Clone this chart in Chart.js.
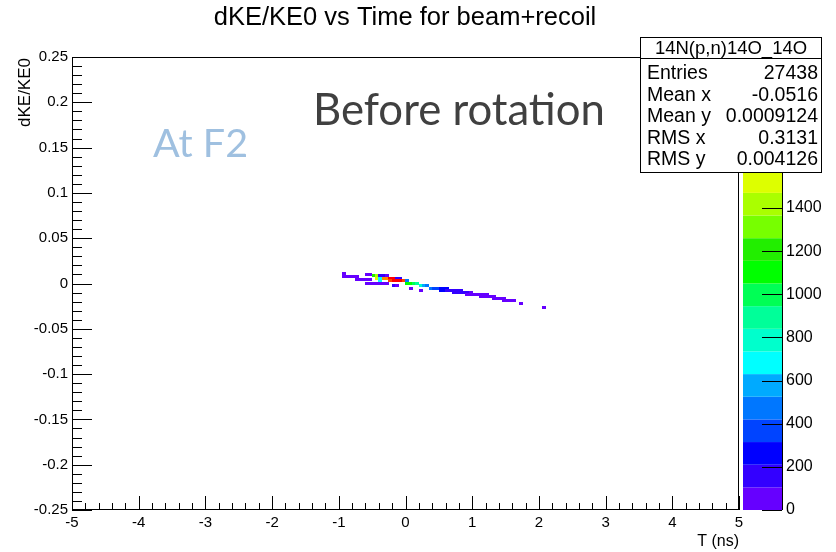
<!DOCTYPE html>
<html>
<head>
<meta charset="utf-8">
<script src="https://cdn.jsdelivr.net/npm/chart.js@4.4.0/dist/chart.umd.min.js"></script>
<style>
html,body{margin:0;padding:0;background:#fff;}
#wrap{width:836px;height:552px;position:relative;}
</style>
</head>
<body>
<div id="wrap"><canvas id="Chart1" width="836" height="552"></canvas></div>
<script>
var chartTitle = 'dKE/KE0 vs Time for beam+recoil';
var xTitle = 'T (ns)';
var yTitle = 'dKE/KE0';
var noteBig = 'Before rotation';
var noteSmall = 'At F2';
var xTickLabels = ['-5','-4','-3','-2','-1','0','1','2','3','4','5'];
var yTickLabels = ['-0.25','-0.2','-0.15','-0.1','-0.05','0','0.05','0.1','0.15','0.2','0.25'];
var zTickLabels = ['0','200','400','600','800','1000','1200','1400','1600','1800','2000'];
var zMax = 2100;
var zColors = ['#6600ff','#3300ff','#0000ff','#0044ff','#0077ff','#00aaff','#00ffff','#00ffcc','#00ff99','#00ff55',
               '#00ff00','#22ee00','#77ff00','#aaff00','#ddff00','#ffff00','#ffcc00','#ff8800','#ff4400','#ff0000'];
var statTitle = '14N(p,n)14O_14O';
var statNames = ['Entries','Mean x','Mean y','RMS x','RMS y'];
var statValues = ['27438','-0.0516','0.0009124','0.3131','0.004126'];

// 2D histogram cells: time (ns), dKE/KE0, counts
var cellT = [-0.925,
  -0.925,-0.875,-0.825,-0.775,-0.725,
  -0.575,-0.525,
  -0.725,-0.675,-0.625,-0.575,-0.525,
  -0.475,-0.425,-0.375,-0.325,-0.275,
  -0.425,-0.375,-0.325,-0.275,-0.225,-0.175,-0.125,-0.075,
  -0.375,-0.225,-0.175,-0.125,-0.075,-0.025,0.025,
  -0.575,-0.525,-0.475,-0.425,-0.375,-0.325,-0.275,0.025,0.075,0.125,0.175,
  -0.175,-0.125,0.225,0.275,0.325,
  0.075,0.375,0.425,0.475,0.525,0.575,0.625,
  0.225,0.525,0.575,0.625,0.675,0.725,0.775,0.825,
  0.725,0.775,0.825,0.875,0.925,0.975,
  0.925,0.975,1.025,1.075,1.125,1.175,1.225,
  1.125,1.175,1.225,1.275,1.325,
  1.325,1.375,1.425,1.475,
  1.475,1.525,1.575,1.625,
  1.725,2.075];
var cellD = [0.0105,
  0.0078,0.0078,0.0078,0.0078,0.0078,
  0.0100,0.0100,
  0.0044,0.0044,0.0044,0.0044,0.0044,
  0.0083,0.0083,0.0083,0.0083,0.0083,
  0.0058,0.0058,0.0058,0.0058,0.0058,0.0058,0.0058,0.0058,
  0.0030,0.0030,0.0030,0.0030,0.0030,0.0030,0.0030,
  0.0005,0.0005,0.0005,0.0005,0.0005,0.0005,0.0005,0.0005,0.0005,0.0005,0.0005,
  -0.0022,-0.0022,-0.0022,-0.0022,-0.0022,
  -0.0052,-0.0052,-0.0052,-0.0052,-0.0052,-0.0052,-0.0052,
  -0.0075,-0.0075,-0.0075,-0.0075,-0.0075,-0.0075,-0.0075,-0.0075,
  -0.0099,-0.0099,-0.0099,-0.0099,-0.0099,-0.0099,
  -0.0125,-0.0125,-0.0125,-0.0125,-0.0125,-0.0125,-0.0125,
  -0.0147,-0.0147,-0.0147,-0.0147,-0.0147,
  -0.0170,-0.0170,-0.0170,-0.0170,
  -0.0192,-0.0192,-0.0192,-0.0192,
  -0.0218,-0.0268];
var cellN = [60,
  60,80,70,80,60,
  90,70,
  80,90,80,95,90,
  1250,1450,120,130,90,
  1550,720,1800,1850,2050,2090,170,150,
  640,1950,2060,2010,2040,1930,420,
  80,90,95,90,100,90,70,1100,1150,1000,860,
  120,100,740,610,520,
  90,420,380,330,260,230,220,
  80,230,220,200,180,160,150,140,
  150,140,130,120,110,100,
  100,95,90,90,85,80,80,
  80,80,70,70,60,
  60,60,50,50,
  40,40,30,30,
  40,60];

var cellImgs = [];
function makeCellImages(){
    for (var i = 0; i < zColors.length; i++) {
        var c = document.createElement('canvas');
        c.width = 4; c.height = 3;
        var g = c.getContext('2d');
        g.fillStyle = zColors[i];
        g.fillRect(0, 0, 4, 3);
        cellImgs.push(c);
    }
}
function bandOf(n){
    var b = Math.floor(n / (zMax / zColors.length));
    if (b > zColors.length - 1) b = zColors.length - 1;
    return b;
}
function fixBox(s, w, h){
    if (w !== null) s.width = w;
    if (h !== null) s.height = h;
    s.paddingTop = 0; s.paddingBottom = 0; s.paddingLeft = 0; s.paddingRight = 0;
}

var rootDecor = {
    id: 'rootDecor',
    beforeDatasetsDraw: function(chart){
        var ctx = chart.ctx;
        var y = chart.scales.y;
        var z = chart.scales.z;
        // colour palette bar
        var step = zMax / zColors.length;
        for (var i = 0; i < zColors.length; i++) {
            var y0 = z.getPixelForValue(i * step);
            var y1 = z.getPixelForValue((i + 1) * step);
            ctx.fillStyle = zColors[i];
            ctx.fillRect(743, y1, 39, y0 - y1);
        }
        ctx.strokeStyle = '#000';
        ctx.lineWidth = 1;
        ctx.beginPath();
        ctx.moveTo(782.5, y.top); ctx.lineTo(782.5, y.bottom);
        for (var k = 0; k < zTickLabels.length; k++) {
            var py = Math.round(z.getPixelForValue(Number(zTickLabels[k]))) + 0.5;
            ctx.moveTo(762, py); ctx.lineTo(782, py);
        }
        ctx.stroke();
    },
    afterDatasetsDraw: function(chart){
        var ctx = chart.ctx;
        var a = chart.chartArea;
        var x = chart.scales.x, y = chart.scales.y;
        ctx.save();
        ctx.strokeStyle = '#000';
        ctx.lineWidth = 1;
        ctx.strokeRect(Math.round(a.left) + 0.5, Math.round(a.top) + 0.5, Math.round(a.right - a.left) - 1, Math.round(a.bottom - a.top) - 1);
        ctx.beginPath();
        for (var k = -25; k <= 25; k++) {
            var py = Math.round(y.getPixelForValue(k / 100)) + 0.5;
            var len = (k % 5 === 0) ? 20 : 10;
            ctx.moveTo(a.left, py); ctx.lineTo(a.left + len, py);
            var px = Math.round(x.getPixelForValue(k / 5)) + 0.5;
            var lx = (k % 5 === 0) ? 14 : 7;
            ctx.moveTo(px, a.bottom); ctx.lineTo(px, a.bottom - lx);
        }
        ctx.stroke();
        ctx.restore();
    },
    afterDraw: function(chart){
        var ctx = chart.ctx;
        var a = chart.chartArea;
        ctx.save();
        ctx.fillStyle = '#000';
        ctx.textBaseline = 'alphabetic';
        // title
        ctx.font = '25.5px "Liberation Sans", Arial, sans-serif';
        ctx.textAlign = 'center';
        ctx.fillText(chartTitle, 405, 25);
        // axis titles
        ctx.font = '16px "Liberation Sans", Arial, sans-serif';
        ctx.textAlign = 'right';
        ctx.fillText(xTitle, a.right, 546);
        ctx.font = '17px "Liberation Sans", Arial, sans-serif';
        ctx.save();
        ctx.translate(30, a.top + 1);
        ctx.rotate(-Math.PI / 2);
        ctx.fillText(yTitle, 0, 0);
        ctx.restore();
        // stats box
        ctx.fillStyle = '#fff';
        ctx.fillRect(640, 37, 181, 135);
        ctx.strokeStyle = '#000';
        ctx.lineWidth = 1;
        ctx.strokeRect(640.5, 37.5, 181, 135);
        ctx.beginPath();
        ctx.moveTo(640, 58.5); ctx.lineTo(822, 58.5);
        ctx.stroke();
        ctx.fillStyle = '#000';
        ctx.font = '18.5px "Liberation Sans", Arial, sans-serif';
        ctx.textAlign = 'center';
        ctx.fillText(statTitle, 731, 54);
        ctx.font = '19.5px "Liberation Sans", Arial, sans-serif';
        for (var i = 0; i < statNames.length; i++) {
            var by = 79 + i * 21.5;
            ctx.textAlign = 'left';
            ctx.fillText(statNames[i], 647, by);
            ctx.textAlign = 'right';
            ctx.fillText(statValues[i], 818, by);
        }
        // slide annotations
        ctx.textAlign = 'left';
        ctx.fillStyle = '#404040';
        fitText(ctx, noteBig, 313, 125, 292, 'Lato');
        ctx.fillStyle = '#9fc0e0';
        fitText(ctx, noteSmall, 153, 157, 95, 'Lato');
        ctx.restore();
    }
};

function fitText(ctx, txt, x, y, w, fam){
    ctx.font = '40px "' + fam + '"';
    var m = ctx.measureText(txt).width;
    var sz = 40 * w / m;
    ctx.font = sz.toFixed(1) + 'px "' + fam + '"';
    ctx.fillText(txt, x, y);
}

window.onload = function () {
    buildpage();
}
function buildpage(){
    makeCellImages();
    var pts = [];
    for (var i = 0; i < cellT.length; i++) {
        pts.push({x: cellT[i], y: cellD[i]});
    }
    var tickFont = {family: '"Liberation Sans", Arial, sans-serif', size: 15};
    var ctx = document.getElementById('Chart1').getContext('2d');
    var chart = new Chart(ctx, {
        type: 'scatter',
        data: {datasets: [{
            data: pts,
            pointRadius: 2,
            pointHoverRadius: 2,
            pointStyle: function(c){ return cellImgs[bandOf(cellN[c.dataIndex])]; }
        }]},
        options: {
            responsive: false,
            animation: false,
            events: [],
            layout: {autoPadding: false, padding: {top: 57, left: 0, right: 0, bottom: 0}},
            plugins: {legend: {display: false}, tooltip: {enabled: false}},
            scales: {
                x: {type: 'linear', position: 'bottom', min: -5, max: 5,
                    afterFit: function(s){ fixBox(s, null, 42); },
                    afterBuildTicks: function(s){ s.ticks = xTickLabels.map(function(l){ return {value: Number(l)}; }); },
                    grid: {display: false, drawTicks: false}, border: {display: false},
                    ticks: {padding: 4, color: '#000', font: tickFont, maxRotation: 0, autoSkip: false,
                        callback: function(v, i){ return xTickLabels[i]; }}
                },
                y: {type: 'linear', position: 'left', min: -0.25, max: 0.25,
                    afterFit: function(s){ fixBox(s, 72, null); },
                    afterBuildTicks: function(s){ s.ticks = yTickLabels.map(function(l){ return {value: Number(l)}; }); },
                    grid: {display: false, drawTicks: false}, border: {display: false},
                    ticks: {padding: 4, color: '#000', font: tickFont, autoSkip: false,
                        callback: function(v, i){ return yTickLabels[i]; }}
                },
                z: {type: 'linear', axis: 'y', position: 'right', min: 0, max: zMax,
                    afterFit: function(s){ fixBox(s, 97, null); },
                    afterBuildTicks: function(s){ s.ticks = zTickLabels.map(function(l){ return {value: Number(l)}; }); },
                    grid: {display: false, drawTicks: false}, border: {display: false},
                    ticks: {padding: 47, color: '#000', font: {family: '"Liberation Sans", Arial, sans-serif', size: 16}, autoSkip: false,
                        callback: function(v, i){ return zTickLabels[i]; }}
                }
            }
        },
        plugins: [rootDecor]
    });
}
</script>
</body>
</html>
